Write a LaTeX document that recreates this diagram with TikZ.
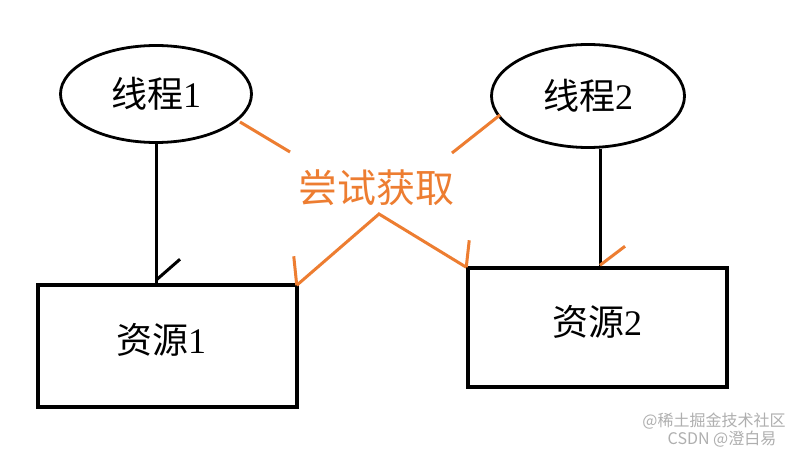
\documentclass[tikz,border=0pt]{standalone}
\usepackage{fontspec}
\newfontfamily\cjkfont{Noto Sans CJK SC}
\newfontfamily\numfont{Liberation Serif}
\usetikzlibrary{shapes.geometric}
\definecolor{org}{RGB}{237,125,49}
\definecolor{wm}{RGB}{175,175,175}
\newcommand{\mylab}[2]{{\cjkfont #1}{\numfont #2}}
\begin{document}
\begin{tikzpicture}[x=1pt,y=-1pt,
  thr/.style={ellipse,draw,line width=2.8pt,inner sep=0pt,font=\fontsize{36}{36}\selectfont},
  res/.style={rectangle,draw,line width=3.5pt,inner sep=0pt},
  reslab/.style={inner sep=0pt,font=\fontsize{36}{36}\selectfont},
  blk/.style={line width=3pt},
  orl/.style={draw=org,line width=3pt},
  wmark/.style={text=wm,font=\cjkfont\fontsize{16}{16}\selectfont,inner sep=0pt}]
\useasboundingbox (0,0) rectangle (799,449);
\fill[white] (0,0) rectangle (799,449);
% threads
\node[thr,minimum width=191pt,minimum height=97pt] (t1) at (156,94) {\mylab{线程}{1}};
\node[thr,minimum width=193pt,minimum height=103pt] (t2) at (588,96) {\mylab{线程}{2}};
% resources
\node[res,minimum width=259pt,minimum height=122pt] (r1) at (167.5,346) {};
\node[res,minimum width=259pt,minimum height=119pt] (r2) at (597.5,327.5) {};
\node[reslab] (l1) at (161,340) {\mylab{资源}{1}};
\node[reslab] (l2) at (597,322) {\mylab{资源}{2}};
% label
\node[text=org,font=\cjkfont\fontsize{39}{39}\selectfont,inner sep=0pt] (try) at (376,188) {尝试获取};
% black connectors
\coordinate (a1) at (t1.south |- r1.north);
\draw[blk] (t1.south) -- (a1);
\draw[blk] ([yshift=3pt]a1) -- ++(24,-21);
\coordinate (b2s) at ([xshift=12pt]t2.south);
\coordinate (a2) at (b2s |- r2.north);
\draw[blk] (b2s) -- (a2);
\draw[orl] ([yshift=1pt]a2) -- ++(25,-19);
% orange lines from threads
\coordinate (o1s) at (240,122);
\coordinate (o1e) at (290,152);
\coordinate (o2s) at (500,115);
\coordinate (o2e) at (452,153);
\draw[orl] (o1s) -- (o1e);
\draw[orl] (o2s) -- (o2e);
% V from label to resources
\coordinate (apex) at (379,214);
\coordinate (c1) at ([xshift=-2pt,yshift=-2pt]r1.north east);
\coordinate (c2) at ([yshift=-1pt]r2.north west);
\draw[orl] (c1) -- (apex) -- (c2);
\draw[orl] (c1) -- ++(-3,-29);
\draw[orl] (c2) -- ++(3,-27);
% watermark
\node[wmark] (w1) at (714,421) {@稀土掘金技术社区};
\node[wmark] (w2) at (722,439) {CSDN @澄白易};
\end{tikzpicture}
\end{document}
